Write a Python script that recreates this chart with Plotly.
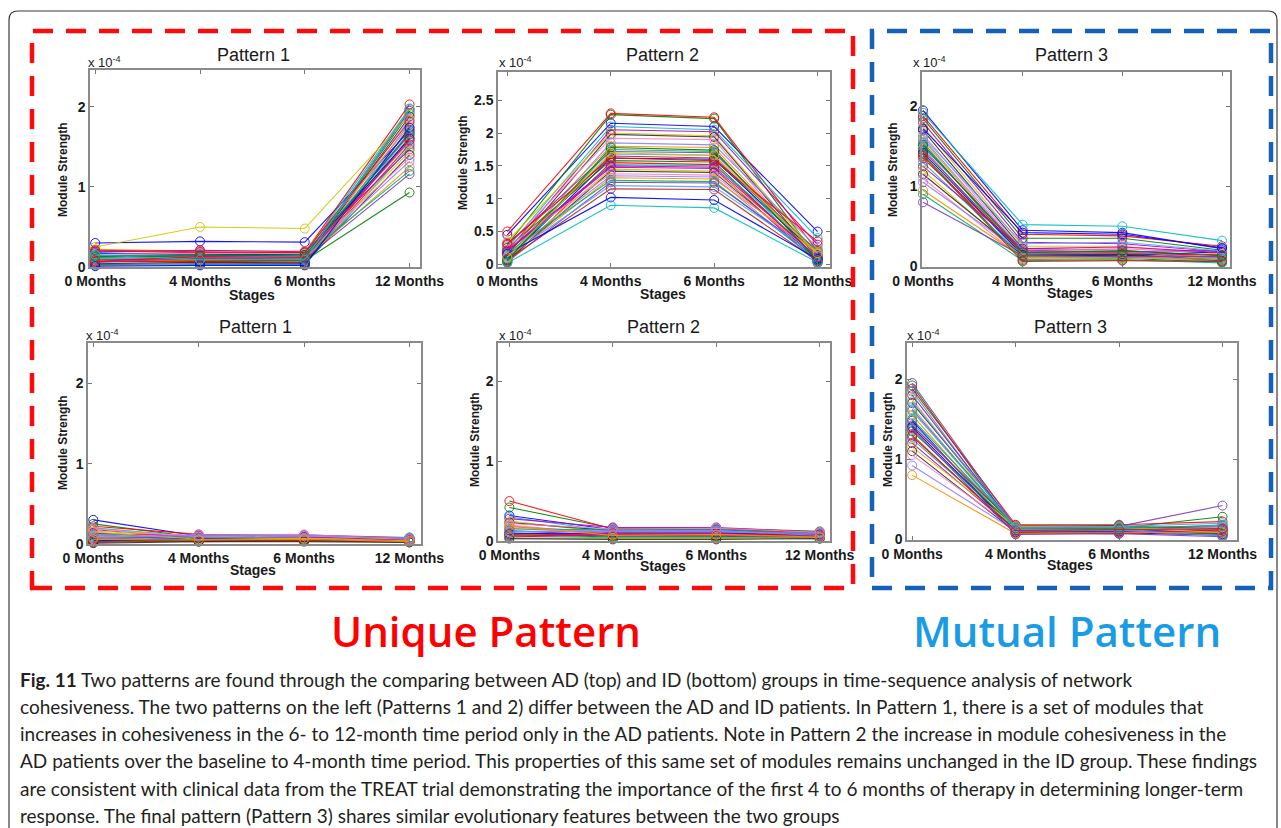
import plotly.graph_objects as go

W, H = 1281, 828

STAGES = ["0 Months", "4 Months", "6 Months", "12 Months"]
STAGE_X = [1, 2, 3, 4]

# Module strength values (x 10^-4) per module, at stages 0/4/6/12 months
ad_pattern1 = [
    [0.30, 0.32, 0.31, 1.70], [0.12, 0.10, 0.10, 1.92], [0.20, 0.18, 0.18, 2.03],
    [0.18, 0.15, 0.16, 1.98], [0.15, 0.12, 0.12, 1.95], [0.25, 0.50, 0.48, 1.90],
    [0.10, 0.08, 0.09, 1.88], [0.08, 0.06, 0.07, 1.85], [0.05, 0.05, 0.05, 1.80],
    [0.22, 0.20, 0.20, 1.76], [0.14, 0.14, 0.13, 1.72], [0.09, 0.11, 0.11, 1.68],
    [0.06, 0.09, 0.08, 1.65], [0.03, 0.04, 0.04, 1.62], [0.17, 0.16, 0.15, 1.60],
    [0.09, 0.08, 0.08, 0.93], [0.07, 0.07, 0.06, 1.53], [0.02, 0.03, 0.03, 1.50],
    [0.19, 0.21, 0.19, 1.47], [0.13, 0.10, 0.11, 1.44], [0.04, 0.06, 0.05, 1.40],
    [0.16, 0.17, 0.17, 1.36], [0.10, 0.12, 0.12, 1.32], [0.08, 0.09, 0.10, 1.25],
    [0.12, 0.15, 0.14, 1.20], [0.06, 0.11, 0.10, 1.16], [0.11, 0.13, 0.14, 1.56],
    [0.21, 0.19, 0.18, 1.82], [0.01, 0.02, 0.02, 1.74], [0.13, 0.14, 0.15, 1.66],
    [0.07, 0.13, 0.12, 1.58], [0.15, 0.09, 0.09, 1.97],
]

ad_pattern2 = [
    [0.45, 2.15, 2.10, 0.50], [0.30, 2.28, 2.22, 0.10], [0.50, 2.30, 2.24, 0.20],
    [0.25, 2.10, 2.05, 0.40], [0.20, 2.05, 2.02, 0.30], [0.35, 2.00, 1.96, 0.15],
    [0.15, 1.98, 1.94, 0.10], [0.28, 1.92, 1.90, 0.05], [0.10, 1.85, 1.82, 0.25],
    [0.22, 1.80, 1.78, 0.12], [0.05, 1.75, 1.72, 0.08], [0.30, 1.72, 1.70, 0.18],
    [0.12, 1.68, 1.66, 0.03], [0.18, 1.65, 1.62, 0.20], [0.08, 1.62, 1.60, 0.14],
    [0.25, 1.58, 1.56, 0.06], [0.03, 1.55, 1.52, 0.10], [0.15, 1.52, 1.50, 0.22],
    [0.20, 1.48, 1.46, 0.02], [0.10, 1.45, 1.42, 0.16], [0.06, 1.42, 1.40, 0.09],
    [0.27, 1.38, 1.36, 0.12], [0.14, 1.35, 1.33, 0.04], [0.09, 1.32, 1.30, 0.19],
    [0.18, 1.28, 1.26, 0.07], [0.04, 1.25, 1.24, 0.11], [0.12, 1.20, 1.18, 0.13],
    [0.07, 1.15, 1.14, 0.05], [0.16, 1.02, 0.98, 0.08], [0.06, 1.78, 1.74, 0.06],
    [0.32, 1.62, 1.58, 0.35], [0.02, 0.90, 0.86, 0.03], [0.21, 1.50, 1.48, 0.11],
    [0.11, 1.70, 1.66, 0.17],
]

ad_pattern3 = [
    [1.95, 0.45, 0.42, 0.22], [1.85, 0.35, 0.35, 0.20], [1.88, 0.40, 0.38, 0.25],
    [1.92, 0.52, 0.50, 0.32], [1.80, 0.30, 0.28, 0.18], [1.75, 0.25, 0.25, 0.15],
    [1.70, 0.22, 0.20, 0.12], [1.65, 0.20, 0.22, 0.16], [1.60, 0.18, 0.18, 0.10],
    [1.58, 0.15, 0.16, 0.14], [1.55, 0.12, 0.14, 0.08], [1.50, 0.20, 0.18, 0.20],
    [1.48, 0.10, 0.12, 0.06], [1.45, 0.16, 0.15, 0.12], [1.42, 0.14, 0.13, 0.18],
    [1.40, 0.08, 0.10, 0.05], [1.35, 0.18, 0.17, 0.13], [1.30, 0.12, 0.11, 0.09],
    [1.25, 0.22, 0.24, 0.17], [1.20, 0.10, 0.10, 0.11], [1.15, 0.14, 0.15, 0.07],
    [1.10, 0.09, 0.08, 0.15], [1.05, 0.16, 0.18, 0.10], [0.95, 0.11, 0.12, 0.08],
    [0.90, 0.07, 0.08, 0.04], [0.80, 0.13, 0.12, 0.12], [1.62, 0.28, 0.30, 0.19],
    [1.38, 0.06, 0.07, 0.06], [1.72, 0.42, 0.40, 0.23], [1.52, 0.17, 0.19, 0.14],
]

id_pattern1 = [
    [0.30, 0.10, 0.10, 0.06], [0.25, 0.08, 0.09, 0.05], [0.22, 0.12, 0.11, 0.08],
    [0.20, 0.09, 0.08, 0.04], [0.18, 0.07, 0.08, 0.06], [0.16, 0.10, 0.10, 0.07],
    [0.14, 0.06, 0.06, 0.03], [0.12, 0.11, 0.12, 0.05], [0.10, 0.05, 0.05, 0.04],
    [0.09, 0.08, 0.07, 0.06], [0.08, 0.04, 0.05, 0.02], [0.07, 0.09, 0.09, 0.07],
    [0.06, 0.06, 0.07, 0.05], [0.05, 0.03, 0.04, 0.03], [0.04, 0.07, 0.06, 0.04],
    [0.03, 0.05, 0.05, 0.06], [0.02, 0.04, 0.04, 0.03], [0.11, 0.08, 0.08, 0.08],
    [0.13, 0.10, 0.09, 0.05], [0.15, 0.06, 0.07, 0.04], [0.01, 0.03, 0.03, 0.02],
    [0.19, 0.09, 0.10, 0.06], [0.08, 0.11, 0.11, 0.07], [0.06, 0.05, 0.06, 0.03],
]

id_pattern2 = [
    [0.32, 0.14, 0.14, 0.09], [0.42, 0.16, 0.16, 0.12], [0.50, 0.15, 0.15, 0.10],
    [0.30, 0.12, 0.13, 0.08], [0.28, 0.17, 0.17, 0.11], [0.25, 0.10, 0.10, 0.07],
    [0.23, 0.13, 0.12, 0.09], [0.20, 0.08, 0.09, 0.06], [0.18, 0.11, 0.11, 0.10],
    [0.16, 0.09, 0.08, 0.05], [0.15, 0.14, 0.15, 0.08], [0.13, 0.07, 0.07, 0.06],
    [0.12, 0.12, 0.12, 0.09], [0.10, 0.06, 0.06, 0.04], [0.09, 0.10, 0.10, 0.07],
    [0.08, 0.05, 0.05, 0.05], [0.07, 0.09, 0.09, 0.08], [0.06, 0.04, 0.04, 0.03],
    [0.05, 0.08, 0.07, 0.06], [0.04, 0.03, 0.03, 0.04], [0.03, 0.02, 0.02, 0.03],
    [0.22, 0.15, 0.16, 0.11], [0.11, 0.13, 0.13, 0.07], [0.19, 0.07, 0.08, 0.05],
]

id_pattern3 = [
    [1.48, 0.07, 0.08, 0.05], [1.92, 0.12, 0.14, 0.28], [1.88, 0.18, 0.18, 0.22],
    [1.85, 0.10, 0.12, 0.18], [1.80, 0.14, 0.15, 0.15], [1.75, 0.08, 0.10, 0.12],
    [1.70, 0.16, 0.17, 0.10], [1.65, 0.11, 0.12, 0.08], [1.60, 0.13, 0.14, 0.16],
    [1.55, 0.09, 0.10, 0.06], [1.50, 0.15, 0.16, 0.13], [1.95, 0.15, 0.16, 0.42],
    [1.45, 0.12, 0.13, 0.11], [1.42, 0.17, 0.15, 0.14], [1.40, 0.10, 0.09, 0.09],
    [1.35, 0.14, 0.13, 0.07], [1.30, 0.08, 0.07, 0.12], [1.25, 0.13, 0.12, 0.04],
    [1.20, 0.11, 0.10, 0.10], [1.15, 0.16, 0.15, 0.08], [1.10, 0.09, 0.10, 0.06],
    [1.05, 0.12, 0.11, 0.15], [0.92, 0.10, 0.11, 0.05], [0.80, 0.07, 0.08, 0.09],
    [1.62, 0.14, 0.14, 0.17], [1.38, 0.06, 0.07, 0.03], [1.72, 0.15, 0.16, 0.20],
    [1.28, 0.11, 0.12, 0.13],
]

COLORS = ["#0000ff", "#008000", "#ff0000", "#00bfbf", "#bf00bf", "#d4c400", "#303030",
          "#ff7fbf", "#8c7fff", "#ff8c00", "#00b36b", "#7a3db8", "#4fa3ff", "#b3261e"]

TITLE_FONT = "Liberation Sans, Arial, sans-serif"


def PX(x):
    return x / W


def PY(y):
    return 1 - y / H


panels = [
    dict(data=ad_pattern1, title="Pattern 1", box=(90, 420, 70, 267), xr=[0.95, 4.10], yr=[0, 2.46],
         yt=[0, 1, 2], ylab=["0", "1", "2"], t=(253, 55), e=(86, 62), s=(252, 295), m=(63, 170)),
    dict(data=ad_pattern2, title="Pattern 2", box=(498, 830, 72, 267), xr=[0.91, 4.12], yr=[-0.04, 2.93],
         yt=[0, 0.5, 1, 1.5, 2, 2.5], ylab=["0", "0.5", "1", "1.5", "2", "2.5"],
         t=(662, 55), e=(497, 62), s=(663, 294), m=(463, 163)),
    dict(data=ad_pattern3, title="Pattern 3", box=(922, 1230, 72, 267), xr=[0.99, 4.08], yr=[-0.01, 2.43],
         yt=[0, 1, 2], ylab=["0", "1", "2"], t=(1071, 55), e=(911, 62), s=(1070, 293), m=(893, 170)),
    dict(data=id_pattern1, title="Pattern 1", box=(88, 421, 343, 544), xr=[0.95, 4.11], yr=[0, 2.5],
         yt=[0, 1, 2], ylab=["0", "1", "2"], t=(255, 327), e=(84, 335), s=(253, 570), m=(63, 443)),
    dict(data=id_pattern2, title="Pattern 2", box=(498, 830, 343, 541), xr=[0.89, 4.10], yr=[0, 2.48],
         yt=[0, 1, 2], ylab=["0", "1", "2"], t=(663, 327), e=(497, 335), s=(663, 566), m=(475, 440)),
    dict(data=id_pattern3, title="Pattern 3", box=(907, 1237, 343, 540), xr=[0.95, 4.14], yr=[-0.01, 2.45],
         yt=[0, 1, 2], ylab=["0", "1", "2"], t=(1070, 327), e=(905, 335), s=(1070, 565), m=(888, 440)),
]

fig = go.Figure()
annotations = []
layout_axes = {}

for i, p in enumerate(panels, start=1):
    sfx = "" if i == 1 else str(i)
    L, R, T, B = p["box"]
    for j, vals in enumerate(p["data"]):
        c = COLORS[j % len(COLORS)]
        fig.add_trace(go.Scatter(
            x=STAGE_X, y=vals, mode="lines+markers",
            line=dict(color=c, width=1.1),
            marker=dict(symbol="circle-open", size=9, color=c, line=dict(width=1, color=c)),
            opacity=0.9, cliponaxis=False, showlegend=False, hoverinfo="skip",
            xaxis="x" + sfx, yaxis="y" + sfx,
        ))
    common = dict(
        ticks="inside", ticklen=4, tickcolor="#777", tickwidth=1,
        showline=True, linecolor="#8a8a8a", linewidth=1.5, mirror="ticks",
        showgrid=False, zeroline=False, fixedrange=True, automargin=False,
        tickfont=dict(family=TITLE_FONT, size=14, color="#1a1a1a"),
    )
    layout_axes["xaxis" + sfx] = dict(
        domain=[PX(L), PX(R)], range=p["xr"], anchor="y" + sfx,
        tickvals=STAGE_X, ticktext=["<b>%s</b>" % s for s in STAGES], **common,
    )
    layout_axes["yaxis" + sfx] = dict(
        domain=[PY(B), PY(T)], range=p["yr"], anchor="x" + sfx,
        tickvals=p["yt"], ticktext=["<b>%s</b>" % s for s in p["ylab"]], **common,
    )
    annotations.append(dict(text=p["title"], x=PX(p["t"][0]), y=PY(p["t"][1]), xref="paper", yref="paper",
                            showarrow=False, xanchor="center", yanchor="middle",
                            font=dict(family=TITLE_FONT, size=18, color="#1a1a1a")))
    annotations.append(dict(text="x 10<sup>-4</sup>", x=PX(p["e"][0]), y=PY(p["e"][1]),
                            xref="paper", yref="paper", showarrow=False, xanchor="left", yanchor="middle",
                            font=dict(family=TITLE_FONT, size=13, color="#1a1a1a")))
    annotations.append(dict(text="<b>Stages</b>", x=PX(p["s"][0]), y=PY(p["s"][1]), xref="paper", yref="paper",
                            showarrow=False, xanchor="center", yanchor="middle",
                            font=dict(family=TITLE_FONT, size=14, color="#1a1a1a")))
    annotations.append(dict(text="<b>Module Strength</b>", x=PX(p["m"][0]), y=PY(p["m"][1]),
                            xref="paper", yref="paper", showarrow=False, textangle=-90,
                            xanchor="center", yanchor="middle",
                            font=dict(family=TITLE_FONT, size=12, color="#1a1a1a")))

# Group labels
annotations.append(dict(text="Unique Pattern", x=PX(486), y=PY(630), xref="paper", yref="paper",
                        showarrow=False, xanchor="center", yanchor="middle",
                        font=dict(family="Open Sans, sans-serif", size=42, color="#ff0000", weight=600)))
annotations.append(dict(text="Mutual Pattern", x=PX(1067), y=PY(630), xref="paper", yref="paper",
                        showarrow=False, xanchor="center", yanchor="middle",
                        font=dict(family="Open Sans, sans-serif", size=42, color="#1a9be6", weight=600)))

caption_lines = [
    "<b>Fig. 11</b> Two patterns are found through the comparing between AD (top) and ID (bottom) groups in time-sequence analysis of network",
    "cohesiveness. The two patterns on the left (Patterns 1 and 2) differ between the AD and ID patients. In Pattern 1, there is a set of modules that",
    "increases in cohesiveness in the 6- to 12-month time period only in the AD patients. Note in Pattern 2 the increase in module cohesiveness in the",
    "AD patients over the baseline to 4-month time period. This properties of this same set of modules remains unchanged in the ID group. These findings",
    "are consistent with clinical data from the TREAT trial demonstrating the importance of the first 4 to 6 months of therapy in determining longer-term",
    "response. The final pattern (Pattern 3) shares similar evolutionary features between the two groups",
]
for k, line in enumerate(caption_lines):
    annotations.append(dict(text=line, x=PX(18), y=PY(679 + 27.3 * k), xref="paper", yref="paper",
                            showarrow=False, xanchor="left", yanchor="middle",
                            font=dict(family="Lato, sans-serif", size=19, color="#231f20")))

# Frames
x0, x1, y0, y1, r = 9, 1277, 11, 860, 9
border_path = "M %f %f L %f %f Q %f %f %f %f L %f %f Q %f %f %f %f L %f %f" % (
    PX(x0), PY(y1), PX(x0), PY(y0 + r), PX(x0), PY(y0), PX(x0 + r), PY(y0),
    PX(x1 - r), PY(y0), PX(x1), PY(y0), PX(x1), PY(y0 + r), PX(x1), PY(y1),
)
shapes = [
    dict(type="path", path=border_path, xref="paper", yref="paper", line=dict(color="#3a3a3a", width=1.2)),
    dict(type="rect", x0=PX(32), x1=PX(853), y0=PY(588), y1=PY(31), xref="paper", yref="paper",
         line=dict(color="#ff0a0a", width=4.5, dash="20px,13px")),
    dict(type="rect", x0=PX(872), x1=PX(1271), y0=PY(588), y1=PY(31), xref="paper", yref="paper",
         line=dict(color="#1560b8", width=4.5, dash="20px,13px")),
]

fig.update_layout(
    width=W, height=H, margin=dict(l=0, r=0, t=0, b=0, autoexpand=False),
    paper_bgcolor="white", plot_bgcolor="white",
    annotations=annotations, shapes=shapes, showlegend=False,
    **layout_axes,
)

fig.write_html("out.html")
